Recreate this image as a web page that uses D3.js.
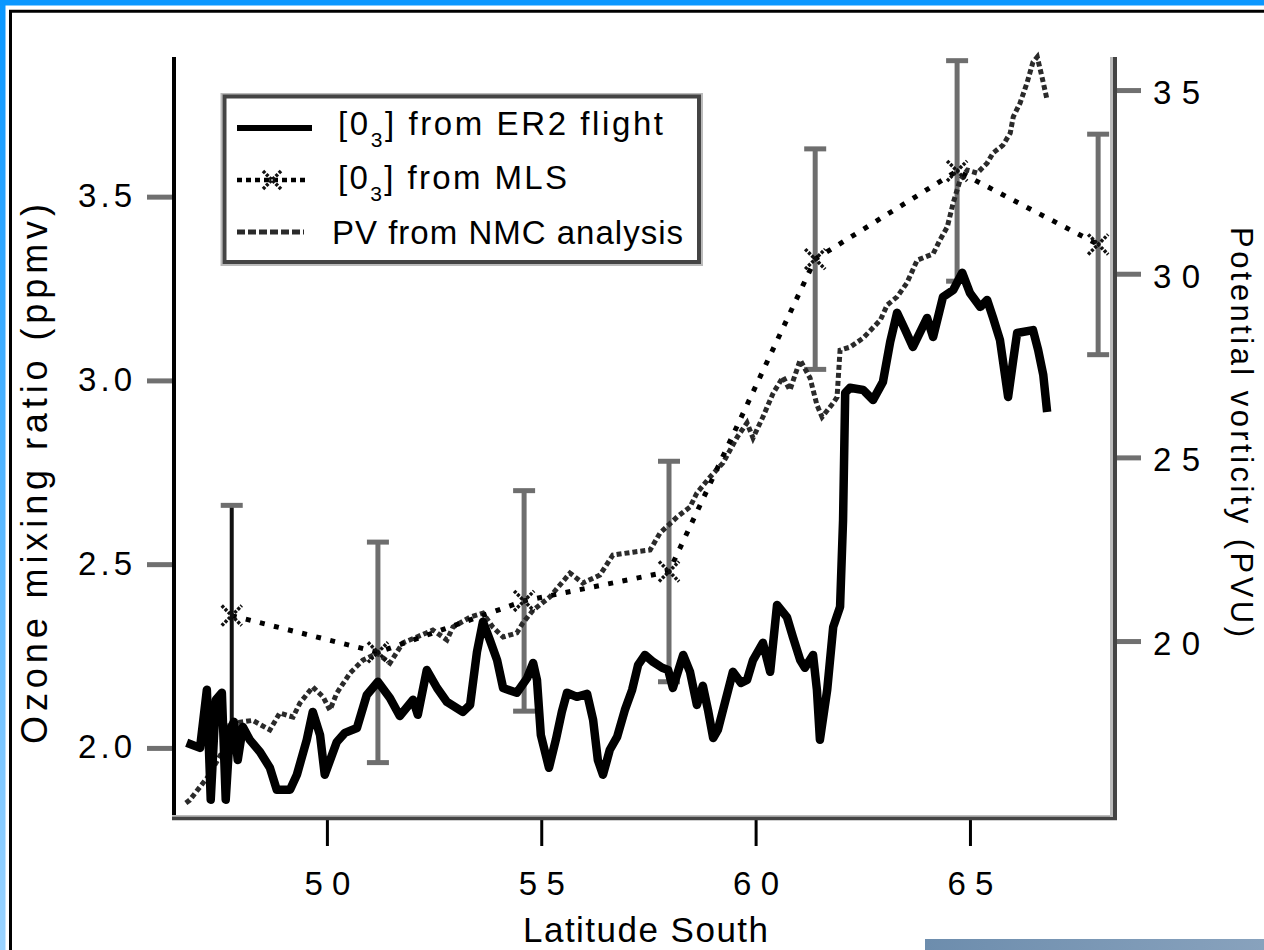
<!DOCTYPE html>
<html><head><meta charset="utf-8">
<script src="https://cdn.jsdelivr.net/npm/d3@7"></script>
<style>
body{margin:0;background:#fff;}
svg{display:block;}
text{font-family:"Liberation Sans",Arial,Helvetica,sans-serif;fill:#000;}
</style>
</head><body>
<svg id="chart" width="1264" height="950"></svg>
<script>
// ---------- data ----------
const er2Lat = [46.73,47.04,47.20,47.29,47.41,47.55,47.64,47.74,47.83,47.92,48.04,48.20,48.44,48.67,48.83,49.14,49.30,49.53,49.67,49.84,49.95,50.23,50.42,50.70,50.93,51.19,51.47,51.70,52.01,52.12,52.33,52.57,52.80,53.17,53.34,53.50,53.64,53.80,53.97,54.11,54.43,54.67,54.81,54.90,54.99,55.18,55.34,55.48,55.60,55.83,56.07,56.21,56.32,56.44,56.60,56.77,56.95,57.12,57.26,57.42,57.61,57.82,57.96,58.07,58.31,58.47,58.63,58.77,58.89,59.01,59.12,59.24,59.47,59.66,59.80,59.94,60.17,60.34,60.50,60.73,60.87,61.04,61.15,61.34,61.43,61.50,61.67,61.81,61.97,62.04,62.09,62.20,62.51,62.74,62.97,63.14,63.30,63.49,63.67,64.00,64.14,64.37,64.61,64.82,65.00,65.24,65.40,65.54,65.70,65.89,66.01,66.10,66.47,66.59,66.71,66.80];
const er2O3 = [2.014,2.000,2.158,1.859,2.131,2.150,1.859,2.049,2.071,1.967,2.057,2.022,1.989,1.946,1.886,1.886,1.927,2.022,2.098,2.035,1.927,2.016,2.041,2.054,2.144,2.180,2.136,2.087,2.131,2.090,2.212,2.163,2.125,2.098,2.117,2.261,2.343,2.294,2.239,2.163,2.150,2.190,2.231,2.185,2.035,1.946,2.022,2.098,2.150,2.139,2.147,2.076,1.967,1.927,1.995,2.030,2.103,2.158,2.226,2.253,2.234,2.218,2.212,2.163,2.253,2.207,2.117,2.169,2.103,2.027,2.049,2.103,2.207,2.177,2.185,2.239,2.286,2.207,2.389,2.356,2.302,2.239,2.218,2.253,2.158,2.022,2.158,2.329,2.384,2.620,2.966,2.980,2.974,2.947,2.996,3.105,3.184,3.137,3.091,3.170,3.118,3.227,3.246,3.293,3.238,3.200,3.219,3.170,3.110,2.955,3.056,3.129,3.137,3.083,3.015,2.914];

const pvLat = [46.71,46.80,47.22,47.97,48.27,48.67,48.90,49.21,49.37,49.67,49.91,50.07,50.23,50.54,50.84,51.17,51.47,51.77,52.10,52.47,52.80,52.94,53.34,53.64,53.87,54.11,54.43,54.57,54.81,55.20,55.67,55.97,56.37,56.67,57.14,57.54,57.77,58.17,58.47,58.63,58.94,59.24,59.57,59.80,59.94,60.17,60.41,60.64,60.80,61.04,61.27,61.43,61.55,61.81,61.90,61.97,62.20,62.51,62.91,63.07,63.30,63.53,63.77,64.14,64.30,64.47,64.61,64.77,64.94,65.17,65.40,65.54,65.77,65.94,66.01,66.17,66.33,66.47,66.57,66.68,66.80];
const pvVal = [15.59,15.67,16.30,17.79,17.84,17.58,18.04,17.93,18.31,18.75,18.48,18.12,18.58,19.13,19.48,19.67,19.40,19.95,20.11,20.30,20.03,20.38,20.65,20.76,20.38,20.11,20.22,20.49,20.84,21.20,21.85,21.58,21.80,22.34,22.42,22.48,22.94,23.38,23.65,24.03,24.47,24.85,25.55,25.94,25.53,26.10,26.75,27.19,26.83,27.65,27.16,26.43,26.10,26.48,26.64,27.92,28.00,28.25,28.74,29.15,29.37,29.75,30.37,30.54,30.92,31.27,31.93,32.55,32.82,32.74,33.01,33.29,33.50,33.83,34.27,34.65,35.19,35.76,35.90,35.36,34.73];

const mlsLat = [47.78,51.19,54.60,57.98,61.39,64.70,67.99];
const mlsO3  = [2.36,2.26,2.40,2.48,3.33,3.57,3.37];
const mlsErr = [0.30,0.30,0.30,0.30,0.30,0.30,0.30];

const xTicks = [50,55,60,65];
const xTickLabels = ["50","55","60","65"];
const yTicks = [2.0,2.5,3.0,3.5];
const yTickLabels = ["2.0","2.5","3.0","3.5"];
const pvTicks = [20,25,30,35];
const pvTickLabels = ["20","25","30","35"];

const xTitle = "Latitude South";
const yTitle = "Ozone mixing ratio (ppmv)";
const y2Title = "Potential vorticity  (PVU)";
const legendPre = ["[0","[0","PV from NMC analysis"];
const legendSub = ["3","3",""];
const legendPost = ["] from  ER2  flight","] from  MLS",""];

// ---------- scales ----------
const svg = d3.select("#chart");
const x = d3.scaleLinear().domain([46.41, 68.36]).range([173, 1114]);
const y = d3.scaleLinear().domain([1.812, 3.880]).range([817, 57]);
const y2 = d3.scaleLinear().domain([15.21, 35.90]).range([817, 57]);

// ---------- outer frame ----------
const defs = svg.append("defs");
const g1 = defs.append("linearGradient").attr("id","leftBlue").attr("x1",0).attr("y1",0).attr("x2",0).attr("y2",1);
g1.append("stop").attr("offset","0%").attr("stop-color","#0a97ff");
g1.append("stop").attr("offset","100%").attr("stop-color","#9ad3ff");
const g2 = defs.append("linearGradient").attr("id","steel").attr("x1",0).attr("y1",0).attr("x2",1).attr("y2",0);
g2.append("stop").attr("offset","0%").attr("stop-color","#6d8dad");
g2.append("stop").attr("offset","100%").attr("stop-color","#88a2bd");

svg.append("rect").attr("x",0).attr("y",0).attr("width",1264).attr("height",950).attr("fill","#fff");
svg.append("rect").attr("x",0).attr("y",0).attr("width",1264).attr("height",5.5).attr("fill","#0a97ff");
svg.append("rect").attr("x",0).attr("y",0).attr("width",5.5).attr("height",950).attr("fill","url(#leftBlue)");
svg.append("line").attr("x1",9).attr("x2",1264).attr("y1",11.3).attr("y2",11.3).attr("stroke","#000").attr("stroke-width",3);
svg.append("line").attr("x1",10.5).attr("x2",10.5).attr("y1",10).attr("y2",950).attr("stroke","#000").attr("stroke-width",3);
svg.append("rect").attr("x",925).attr("y",939).attr("width",339).attr("height",11).attr("fill","url(#steel)");

// ---------- error bars ----------
const eb = svg.append("g");
mlsLat.forEach((lat,i)=>{
  const col = i===0 ? "#111" : "#6e6e6e";
  const cx = x(lat), yt = y(mlsO3[i]+mlsErr[i]), yb = y(mlsO3[i]-mlsErr[i]);
  eb.append("line").attr("x1",cx).attr("x2",cx).attr("y1",yt).attr("y2",yb).attr("stroke",col).attr("stroke-width",i===0?4:5);
  eb.append("line").attr("x1",cx-11).attr("x2",cx+11).attr("y1",yt).attr("y2",yt).attr("stroke","#6e6e6e").attr("stroke-width",5);
  eb.append("line").attr("x1",cx-11).attr("x2",cx+11).attr("y1",yb).attr("y2",yb).attr("stroke","#6e6e6e").attr("stroke-width",5);
});

// ---------- PV line ----------
const pvLine = d3.line().x((d,i)=>x(pvLat[i])).y((d,i)=>y2(pvVal[i]));
svg.append("path").attr("d",pvLine(pvVal)).attr("fill","none")
  .attr("stroke","#2a2a2a").attr("stroke-width",5).attr("stroke-dasharray","5,3");

// ---------- MLS line + markers ----------
const mlsLine = d3.line().x((d,i)=>x(mlsLat[i])).y((d,i)=>y(mlsO3[i]));
svg.append("path").attr("d",mlsLine(mlsO3)).attr("fill","none")
  .attr("stroke","#000").attr("stroke-width",5).attr("stroke-dasharray","5,9.5");
const xMark = "M-10,-10L10,10M-10,10L10,-10";
svg.append("g").selectAll("path").data(mlsO3).join("path")
  .attr("transform",(d,i)=>`translate(${x(mlsLat[i])},${y(d)})`)
  .attr("d",xMark).attr("fill","none").attr("stroke","#111").attr("stroke-width",3.5).attr("stroke-dasharray","3,1.5");

// ---------- ER2 line ----------
const er2Line = d3.line().x((d,i)=>x(er2Lat[i])).y((d,i)=>y(er2O3[i]));
svg.append("path").attr("d",er2Line(er2O3)).attr("fill","none")
  .attr("stroke","#000").attr("stroke-width",8.5).attr("stroke-linejoin","round");

// ---------- axes ----------
const fs = 33;
const gx = svg.append("g").attr("transform","translate(0,817)")
  .call(d3.axisBottom(x).tickValues(xTicks).tickSize(29).tickFormat((d,i)=>xTickLabels[i]));
gx.select(".domain").remove();
gx.selectAll("line").attr("stroke","#000").attr("stroke-width",3);
gx.selectAll("text").attr("y",78).attr("dy",null).attr("font-size",fs)
  .attr("font-family",null).attr("textLength",46).attr("lengthAdjust","spacing");

const gy = svg.append("g").attr("transform","translate(173,0)")
  .call(d3.axisLeft(y).tickValues(yTicks).tickSize(26).tickFormat((d,i)=>yTickLabels[i]));
gy.select(".domain").remove();
gy.selectAll("line").attr("stroke","#707070").attr("stroke-width",5);
gy.selectAll("text").attr("x",-95).attr("dy",null).attr("y",10).attr("text-anchor","start")
  .attr("font-size",fs).attr("font-family",null).attr("textLength",54).attr("lengthAdjust","spacing");

const gy2 = svg.append("g").attr("transform","translate(1114,0)")
  .call(d3.axisRight(y2).tickValues(pvTicks).tickSize(27).tickFormat((d,i)=>pvTickLabels[i]));
gy2.select(".domain").remove();
gy2.selectAll("line").attr("stroke","#707070").attr("stroke-width",5);
gy2.selectAll("text").attr("x",39).attr("dy",null).attr("y",13.5).attr("text-anchor","start")
  .attr("font-size",fs).attr("font-family",null).attr("textLength",47).attr("lengthAdjust","spacing");

// ---------- plot frame ----------
svg.append("line").attr("x1",174).attr("x2",174).attr("y1",57).attr("y2",819).attr("stroke","#000").attr("stroke-width",4);
svg.append("line").attr("x1",172).attr("x2",1116).attr("y1",816).attr("y2",816).attr("stroke","#bbb").attr("stroke-width",2);
svg.append("line").attr("x1",172).attr("x2",1117).attr("y1",818.5).attr("y2",818.5).attr("stroke","#444").attr("stroke-width",3.5);
svg.append("line").attr("x1",1111.5).attr("x2",1111.5).attr("y1",57).attr("y2",817).attr("stroke","#bbb").attr("stroke-width",3);
svg.append("line").attr("x1",1115).attr("x2",1115).attr("y1",57).attr("y2",820).attr("stroke","#444").attr("stroke-width",4);

// ---------- axis titles ----------
svg.append("text").attr("x",645.5).attr("y",942).attr("text-anchor","middle")
  .attr("font-size",35).attr("textLength",245).attr("lengthAdjust","spacing").text(xTitle);
svg.append("text").attr("transform","translate(47,474) rotate(-90)").attr("text-anchor","middle")
  .attr("font-size",36).attr("textLength",540).attr("lengthAdjust","spacing").text(yTitle);
svg.append("text").attr("transform","translate(1231,432) rotate(90)").attr("text-anchor","middle")
  .attr("font-size",31).attr("textLength",410).attr("lengthAdjust","spacing").text(y2Title);

// ---------- legend ----------
const lg = svg.append("g");
lg.append("rect").attr("x",221.5).attr("y",94).attr("width",480.5).attr("height",171).attr("fill","none").attr("stroke","#bbb").attr("stroke-width",2);
lg.append("rect").attr("x",224.5).attr("y",96.5).attr("width",474.5).attr("height",165.5).attr("fill","#fff").attr("stroke","#444").attr("stroke-width",4);
const rowY = [128,180,232];
const textX = [338,338,332];
const textLen = [325,229,351];
const textBase = [135,189,244];
lg.append("line").attr("x1",237).attr("x2",312).attr("y1",rowY[0]).attr("y2",rowY[0]).attr("stroke","#000").attr("stroke-width",6);
lg.append("line").attr("x1",237).attr("x2",305).attr("y1",rowY[1]).attr("y2",rowY[1]).attr("stroke","#000").attr("stroke-width",4.5).attr("stroke-dasharray","5,4");
lg.append("path").attr("transform",`translate(272,${rowY[1]})`).attr("d","M-9,-9L9,9M-9,9L9,-9").attr("fill","none").attr("stroke","#111").attr("stroke-width",3.5).attr("stroke-dasharray","3,1.5");
lg.append("line").attr("x1",237).attr("x2",304).attr("y1",rowY[2]).attr("y2",rowY[2]).attr("stroke","#2a2a2a").attr("stroke-width",5).attr("stroke-dasharray","8,3");
legendPre.forEach((pre,i)=>{
  const t = lg.append("text").attr("x",textX[i]).attr("y",textBase[i]).attr("font-size",33)
    .attr("textLength",textLen[i]).attr("lengthAdjust","spacing");
  t.append("tspan").text(pre);
  if(legendSub[i]){
    t.append("tspan").attr("font-size",21).attr("dy",12).text(legendSub[i]);
    t.append("tspan").attr("dy",-12).text(legendPost[i]);
  }
});
</script>
</body></html>
